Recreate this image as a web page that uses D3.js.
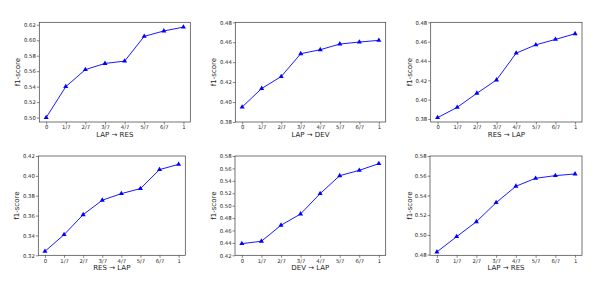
<!DOCTYPE html>
<html>
<head>
<meta charset="utf-8">
<script src="https://cdn.jsdelivr.net/npm/d3@7"></script>
<style>
  body { margin: 0; background: #fff; }
  svg { font-family: "DejaVu Sans", sans-serif; }
</style>
</head>
<body>
<div id="chart"></div>
<script>
const width = 598;
const height = 293;

// x categories (fraction of target data)
const fractions = [0, 1 / 7, 2 / 7, 3 / 7, 4 / 7, 5 / 7, 6 / 7, 1];
const fractionLabels = ["0", "1/7", "2/7", "3/7", "4/7", "5/7", "6/7", "1"];

// f1-score series, one per panel
const lapRes1 = [0.500, 0.540, 0.562, 0.570, 0.573, 0.605, 0.612, 0.617];
const lapDev = [0.395, 0.4136, 0.4256, 0.4485, 0.4525, 0.4582, 0.4602, 0.4619];
const resLap1 = [0.3814, 0.3921, 0.4066, 0.4204, 0.4481, 0.4567, 0.4623, 0.4682];
const resLap2 = [0.324, 0.3408, 0.3609, 0.3755, 0.3821, 0.3872, 0.4063, 0.4116];
const devLap = [0.4388, 0.4426, 0.4684, 0.4866, 0.5194, 0.5483, 0.5569, 0.5677];
const lapRes2 = [0.4827, 0.4982, 0.5134, 0.5327, 0.5493, 0.5574, 0.5601, 0.5618];

const panelTitles = ["LAP → RES", "LAP → DEV", "RES → LAP", "RES → LAP", "DEV → LAP", "LAP → RES"];
const panelSeries = [lapRes1, lapDev, resLap1, resLap2, devLap, lapRes2];
const yDomains = [[0.4943, 0.6232], [0.38, 0.48], [0.3769, 0.48], [0.32, 0.42], [0.42, 0.58], [0.4793, 0.58]];
const yTicks = [
  [0.50, 0.52, 0.54, 0.56, 0.58, 0.60, 0.62],
  [0.38, 0.40, 0.42, 0.44, 0.46, 0.48],
  [0.38, 0.40, 0.42, 0.44, 0.46, 0.48],
  [0.32, 0.34, 0.36, 0.38, 0.40, 0.42],
  [0.42, 0.44, 0.46, 0.48, 0.50, 0.52, 0.54, 0.56, 0.58],
  [0.48, 0.50, 0.52, 0.54, 0.56, 0.58]
];

// axes boxes in pixels [left, top, right, bottom]
const boxes = [
  [39.3, 22.3, 190.3, 122],
  [235.3, 22.3, 385.7, 122],
  [430.7, 22.3, 582, 122],
  [38.3, 156, 185.3, 255.3],
  [235, 156, 385.7, 255.3],
  [430, 156, 582, 255.3]
];

const svg = d3
  .select("#chart")
  .append("svg")
  .attr("width", width)
  .attr("height", height);

const blue = "#0000ff";
const spine = "#3a3a3a";

panelSeries.forEach((values, i) => {
  const [x0, y0, x1, y1] = boxes[i];
  const w = x1 - x0;
  const h = y1 - y0;

  const g = svg.append("g").attr("transform", `translate(${x0},${y0})`);

  // matplotlib-like 5% padding on x
  const xScale = d3.scaleLinear().domain([-0.05, 1.05]).range([0, w]);
  const yScale = d3.scaleLinear().domain(yDomains[i]).range([h, 0]);

  // x axis
  const xAxis = g
    .append("g")
    .attr("transform", `translate(0,${h})`)
    .call(
      d3
        .axisBottom(xScale)
        .tickValues(fractions)
        .tickFormat((d, k) => fractionLabels[k])
        .tickSize(2.5)
        .tickPadding(1)
    );

  // y axis
  const yAxis = g
    .append("g")
    .call(
      d3
        .axisLeft(yScale)
        .tickValues(yTicks[i])
        .tickFormat(d3.format(".2f"))
        .tickSize(2.5)
        .tickPadding(1)
    );

  [xAxis, yAxis].forEach((ax) => {
    ax.select(".domain").remove();
    ax.selectAll(".tick line").attr("stroke", spine).attr("stroke-width", 0.6);
    ax.selectAll(".tick text")
      .attr("fill", "#222")
      .style("font-size", "5.3px")
      .style("font-family", "DejaVu Sans, sans-serif");
  });

  // frame
  g.append("rect")
    .attr("width", w)
    .attr("height", h)
    .attr("fill", "none")
    .attr("stroke", spine)
    .attr("stroke-width", 0.7);

  // line
  const line = d3
    .line()
    .x((d, k) => xScale(fractions[k]))
    .y((d) => yScale(d));

  g.append("path")
    .datum(values)
    .attr("d", line)
    .attr("fill", "none")
    .attr("stroke", blue)
    .attr("stroke-width", 0.9);

  // triangle markers
  const tri = d3.symbol().type(d3.symbolTriangle).size(11);
  g.selectAll(".marker")
    .data(values)
    .enter()
    .append("path")
    .attr("class", "marker")
    .attr("d", tri)
    .attr("transform", (d, k) => `translate(${xScale(fractions[k])},${yScale(d)})`)
    .attr("fill", blue);

  // x label
  g.append("text")
    .attr("x", w / 2)
    .attr("y", h + 13.2)
    .attr("text-anchor", "middle")
    .attr("dominant-baseline", "middle")
    .style("font-size", "7px")
    .attr("fill", "#222")
    .text(panelTitles[i]);

  // y label
  g.append("text")
    .attr("transform", "rotate(-90)")
    .attr("x", -h / 2)
    .attr("y", i % 3 === 2 ? -20.2 : -20.8)
    .attr("text-anchor", "middle")
    .attr("dominant-baseline", "middle")
    .style("font-size", "7px")
    .attr("fill", "#222")
    .text("f1-score");
});
</script>
</body>
</html>
